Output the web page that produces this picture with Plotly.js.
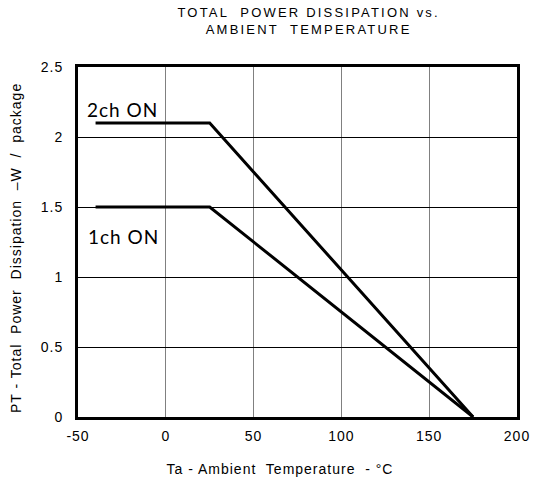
<!DOCTYPE html>
<html>
<head>
<meta charset="utf-8">
<script src="https://cdn.plot.ly/plotly-3.0.1.min.js"></script>
<style>
html,body{margin:0;padding:0;background:#fff;}
#chart{width:534px;height:484px;}
#chart text{letter-spacing:1px;}
#chart .gtitle{letter-spacing:2.2px;}
</style>
</head>
<body>
<div id="chart"></div>
<script>
var temp2ch = [-40, 25, 175];
var power2ch = [2.1, 2.1, 0];
var temp1ch = [-40, 25, 175];
var power1ch = [1.5, 1.5, 0];
var labels = ["2ch ON", "1ch ON"];
var labelX = [-44.3, -43.8];
var labelY = [2.195, 1.29];
var xTicks = [-50, 0, 50, 100, 150, 200];
var yTicks = [0, 0.5, 1, 1.5, 2, 2.5];
var xTitle = "Ta - Ambient\u00a0 Temperature\u00a0 - °C";
var yTitle = "PT - Total\u00a0 Power\u00a0 Dissipation\u00a0 –W\u00a0 /\u00a0 package";

var traces = [
  {x: temp2ch, y: power2ch, mode: 'lines', line: {color: '#000', width: 3}, hoverinfo: 'skip'},
  {x: temp1ch, y: power1ch, mode: 'lines', line: {color: '#000', width: 3}, hoverinfo: 'skip'}
];
var annotations = labels.map(function(t, i){
  return {x: labelX[i], y: labelY[i], xref: 'x', yref: 'y', text: t, showarrow: false,
    xanchor: 'left', yanchor: 'middle', font: {family: 'Lato, "Open Sans", sans-serif', size: 19, color: '#000'}};
});
annotations.push({x: 0.46, y: -0.1486, xref: 'paper', yref: 'paper', text: xTitle, showarrow: false,
  xanchor: 'center', yanchor: 'middle', font: {size: 14}});
annotations.push({x: -0.1424, y: 0.484, xref: 'paper', yref: 'paper', text: yTitle, showarrow: false, textangle: -90,
  xanchor: 'center', yanchor: 'middle', font: {size: 14}});

var layout = {
  width: 534, height: 484,
  margin: {l: 78, r: 17, t: 67, b: 67},
  paper_bgcolor: '#fff', plot_bgcolor: '#fff',
  showlegend: false,
  font: {family: '"Liberation Sans", Arial, sans-serif', color: '#000', size: 14},
  title: {text: 'TOTAL  POWER DISSIPATION vs.<br>AMBIENT  TEMPERATURE', xref: 'container', x: 0.578, xanchor: 'center', y: 0.965, yanchor: 'top',
    font: {family: '"Liberation Sans", Arial, sans-serif', size: 13, color: '#000'}},
  xaxis: {range: [-50, 200], tickvals: xTicks, ticktext: xTicks.map(String), showgrid: true, gridcolor: '#808080', gridwidth: 1,
    zeroline: false, showline: true, linecolor: '#000', linewidth: 3, mirror: true, ticks: '', ticklen: 0,
    ticklabelstandoff: 4, tickfont: {size: 14}},
  yaxis: {range: [0, 2.5], tickvals: yTicks, ticktext: yTicks.map(String), showgrid: true, gridcolor: '#000', gridwidth: 1,
    zeroline: false, showline: true, linecolor: '#000', linewidth: 3, mirror: true, ticks: '', ticklen: 0,
    ticklabelstandoff: 9, tickfont: {size: 14}},
  annotations: annotations
};
Plotly.newPlot('chart', traces, layout, {displayModeBar: false, staticPlot: true});
</script>
</body>
</html>
